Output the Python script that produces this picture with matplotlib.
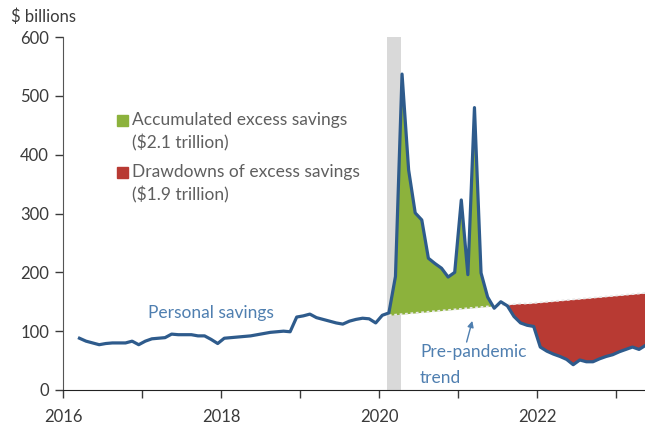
import numpy as np
import pandas as pd
import matplotlib
matplotlib.use("Agg")
import matplotlib.pyplot as plt
from matplotlib.patches import Rectangle

# monthly personal savings, $ billions (Mar 2016 - May 2023)
savings = [
    88, 83, 80, 77, 79, 80, 80, 80, 83, 77,
    83, 87, 88, 89, 95, 94, 94, 94, 92, 92, 86, 79,
    88, 89, 90, 91, 92, 94, 96, 98, 99, 100, 99, 124,
    126, 129, 123, 120, 117, 114, 112, 117, 120, 122, 121, 114,
    127, 131, 193, 537, 374, 301, 289, 224, 215, 207, 192, 200,
    323, 196, 480, 199, 158, 139, 150, 143, 125, 114, 110, 108,
    73, 66, 61, 57, 52, 43, 51, 48, 48, 53, 57, 60,
    65, 69, 73, 69, 76,
]
start_month = "2016-03"

# pre-pandemic trend, Feb 2020 - May 2023
trend = [
    127, 128, 129, 130, 131, 132, 133, 134, 135, 136,
    137, 138, 139, 140, 141, 142, 143, 144, 145, 146,
    147, 147, 148, 149, 150, 151, 152, 153, 154, 155,
    156, 157, 158, 159, 160, 161, 162, 163, 164, 165,
]
trend_start = "2020-02"
green_end = "2021-06"
red_start = "2021-07"

recession = (2020.10, 2020.28)
year_ticks = list(range(2016, 2024))
year_labels = ["2016", "", "2018", "", "2020", "", "2022", ""]

BLUE = "#2e5b8c"
TEXT_BLUE = "#4f7fb0"
GREEN = "#8cb23c"
RED = "#b83a33"
GREY = "#5f5f5f"


def to_decimal(dates):
    return dates.year + (dates.month - 0.5) / 12


dates = pd.date_range(start_month, periods=len(savings), freq="MS")
x = to_decimal(dates)
y = np.array(savings, dtype=float)

i0 = list(dates).index(pd.Timestamp(trend_start))
xt = x[i0:]
yt = y[i0:]
tr = np.array(trend, dtype=float)
dt = dates[i0:]

plt.rcParams["font.family"] = ["Lato", "DejaVu Sans"]

fig = plt.figure(figsize=(6.45, 4.28), dpi=100)
ax = fig.add_axes([63 / 645, 1 - 390 / 428, 1 - 63 / 645, (390 - 37) / 428])

ax.axvspan(recession[0], recession[1], color="#d9d9d9", lw=0, zorder=0)

green_mask = (dt <= pd.Timestamp(green_end)) & (yt >= tr)
red_mask = (dt >= pd.Timestamp(red_start)) & (yt <= tr)
ax.fill_between(xt, tr, yt, where=green_mask, interpolate=True,
                color=GREEN, lw=0, zorder=1)
ax.fill_between(xt, tr, yt, where=red_mask, interpolate=True,
                color=RED, lw=0, zorder=1)
ax.plot(xt, tr, color="#e8e8e8", lw=1.3, ls=(0, (1.5, 1.5)), zorder=2)
ax.plot(x, y, color=BLUE, lw=2.3, zorder=3, solid_joinstyle="round")

ax.set_xlim(2016.0, 2016 + (645 - 63) / 79)
ax.set_ylim(0, 600)
ax.set_yticks(range(0, 601, 100))
ax.set_xticks(year_ticks)
ax.set_xticklabels(year_labels)
for s in ["top", "right"]:
    ax.spines[s].set_visible(False)
ax.spines["left"].set_color("#555555")
ax.spines["bottom"].set_color("#222222")
ax.tick_params(axis="both", direction="out", length=6, width=1,
               labelsize=12, colors="#3a3a3a", pad=4)
ax.tick_params(axis="x", pad=8)

fig.text(11 / 645, 1 - 17 / 428, "$ billions", fontsize=12,
         color="#3a3a3a", va="center", ha="left")

ax.text(2017.87, 131, "Personal savings", fontsize=12.5, color=TEXT_BLUE,
        ha="center", va="center")
ax.text(2020.52, 65, "Pre-pandemic", fontsize=12.5, color=TEXT_BLUE,
        ha="left", va="center")
ax.text(2020.52, 20, "trend", fontsize=12.5, color=TEXT_BLUE,
        ha="left", va="center")
ax.annotate("", xy=(2021.19, 122), xytext=(2021.1, 77),
            arrowprops=dict(arrowstyle="-|>", color=TEXT_BLUE, lw=1,
                            mutation_scale=9))

# legend drawn by hand
legend_rows = [
    (GREEN, 120, "Accumulated excess savings", "($2.1 trillion)"),
    (RED, 172, "Drawdowns of excess savings", "($1.9 trillion)"),
]
for color, ypx, line1, line2 in legend_rows:
    fig.patches.append(Rectangle((117 / 645, 1 - (ypx + 6) / 428), 11 / 645,
                                 11 / 428, transform=fig.transFigure,
                                 color=color))
    fig.text(132 / 645, 1 - ypx / 428, line1, fontsize=12.5, color=GREY,
             va="center", ha="left")
    fig.text(132 / 645, 1 - (ypx + 23) / 428, line2, fontsize=12.5,
             color=GREY, va="center", ha="left")

fig.savefig("out.png", dpi=100)
